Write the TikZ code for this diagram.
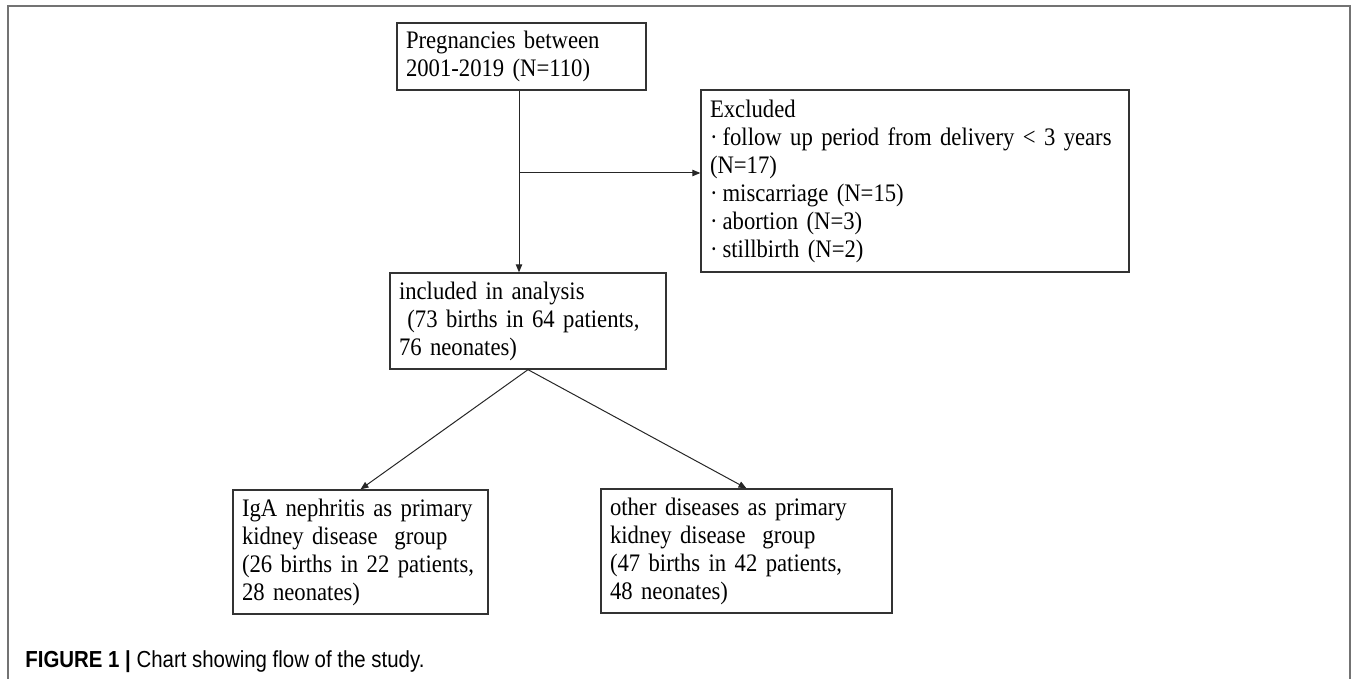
\documentclass[tikz,border=0pt]{standalone}
\usepackage{fontspec}
\setmainfont{Liberation Serif}[FakeStretch=0.9]
\setsansfont{Liberation Sans}[FakeStretch=0.88]
\usetikzlibrary{arrows.meta}

\begin{document}
\begin{tikzpicture}[x=0.5pt,y=0.5pt,
 font=\fontsize{12.6pt}{14pt}\selectfont,
 box/.style={draw=black!80,line width=.65pt,align=left,inner xsep=4.5pt,inner ysep=0pt},
 arr/.style={draw=black!85,line width=.5pt,-{Triangle[length=4pt,width=3.2pt]}}]
\useasboundingbox (0,0) rectangle (1356,-679);
\draw[black!55,line width=.8pt] (8,-679) -- (8,-6) -- (1350,-6) -- (1350,-679);
\node[box,minimum width=124.5pt,minimum height=33.5pt,text width=115.5pt] (preg) at (521.5,-56.5) {Pregnancies between\\2001-2019 (N=110)};
\node[box,minimum width=214pt,minimum height=91pt,text width=205pt] (excl) at (915,-181) {Excluded\\·\hspace{.2em}follow up period from delivery < 3 years\\(N=17)\\·\hspace{.2em}miscarriage (N=15)\\·\hspace{.2em}abortion (N=3)\\·\hspace{.2em}stillbirth (N=2)};
\node[box,minimum width=138pt,minimum height=48pt,text width=129pt] (incl) at (528,-321) {included in analysis\\~(73 births in 64 patients,\\76 neonates)};
\node[box,minimum width=127.5pt,minimum height=62pt,text width=118.5pt] (iga) at (360.5,-552) {IgA nephritis as primary\\kidney disease~ group\\(26 births in 22 patients,\\28 neonates)};
\node[box,minimum width=145.5pt,minimum height=62pt,text width=136.5pt] (other) at (746.5,-551) {other diseases as primary\\kidney disease~ group\\(47 births in 42 patients,\\48 neonates)};
\coordinate (split) at (519,-173);
\draw[arr] (preg.south -| split) -- (incl.north -| split);
\draw[arr] (split) -- (excl.west |- split);
\draw[arr] (incl.south) -- (iga.north);
\draw[arr] (incl.south) -- (other.north);
\node[anchor=west,inner sep=0pt,font=\sffamily\fontsize{11.6pt}{12pt}\selectfont] (caption) at (25,-662) {\textbf{FIGURE 1 |} Chart showing flow of the study.};
\end{tikzpicture}
\end{document}
